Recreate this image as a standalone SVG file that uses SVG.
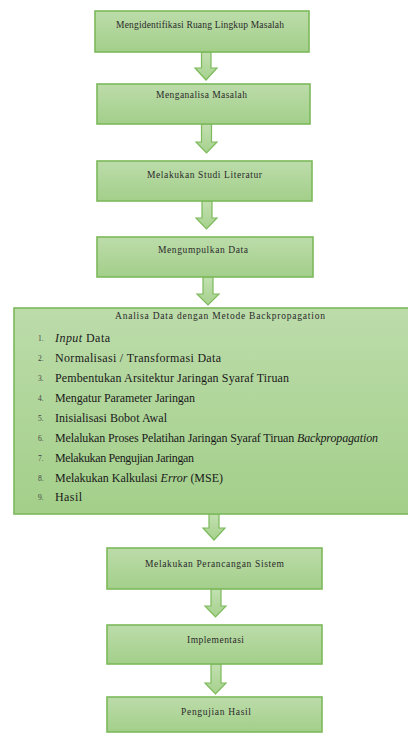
<svg xmlns="http://www.w3.org/2000/svg" width="408" height="734" viewBox="0 0 408 734">
<defs>
<linearGradient id="g" x1="0" y1="0" x2="0" y2="1">
<stop offset="0" stop-color="#bcdcaa"/>
<stop offset="1" stop-color="#a3cf8a"/>
</linearGradient>
<linearGradient id="ga" x1="0" y1="0" x2="0" y2="1">
<stop offset="0" stop-color="#c2e0b0"/>
<stop offset="1" stop-color="#a6d18d"/>
</linearGradient>
<style>
.box{fill:url(#g);stroke:#7cba5b;stroke-width:1.6}
.arr{fill:url(#ga);stroke:#7cba5b;stroke-width:1.2;stroke-linejoin:miter}
text{font-family:'Liberation Serif','DejaVu Serif','Times New Roman',serif}
.t{font-size:9.5px;fill:#2a2a2a;text-anchor:middle}
.li{font-size:12px;fill:#1a1a1a}
.n{font-size:7.5px;fill:#444}
.i{font-style:italic}
</style>
</defs>
<rect width="408" height="734" fill="#ffffff"/>
<g id="connectors">
<path class="arr" d="M201.5,52 H211 V68 H217 L206,80 L195,68 H201.5 Z"/>
<path class="arr" d="M201.5,124 H211.5 V142 H217 L206.5,153 L196,142 H201.5 Z"/>
<path class="arr" d="M202,201 H212 V218 H217 L206.5,229 L196,218 H202 Z"/>
<path class="arr" d="M203,277 H213 V294 H219 L208,305 L197,294 H203 Z"/>
<path class="arr" d="M209,514 H219 V528 H225 L214,540 L203,528 H209 Z"/>
<path class="arr" d="M211,589 H221 V606 H226 L215.5,617 L205,606 H211 Z"/>
<path class="arr" d="M211,664 H221 V683 H226 L215.5,694 L205,683 H211 Z"/>
</g>
<g id="n1">
<rect class="box" x="95" y="11" width="214" height="41"/>
<text class="t" x="200" y="28" textLength="168" lengthAdjust="spacing">Mengidentifikasi Ruang Lingkup Masalah</text>
</g>
<g id="n2">
<rect class="box" x="97" y="84" width="213" height="40"/>
<text class="t" x="201.5" y="98" textLength="91" lengthAdjust="spacing">Menganalisa Masalah</text>
</g>
<g id="n3">
<rect class="box" x="97" y="161" width="215" height="40"/>
<text class="t" x="204.5" y="178" textLength="115" lengthAdjust="spacing">Melakukan Studi Literatur</text>
</g>
<g id="n4">
<rect class="box" x="97" y="237" width="216" height="40"/>
<text class="t" x="203" y="253" textLength="90" lengthAdjust="spacing">Mengumpulkan Data</text>
</g>
<g id="n5">
<rect class="box" x="14" y="308" width="402" height="206"/>
<text class="t" x="220" y="319" textLength="210" lengthAdjust="spacing">Analisa Data dengan Metode Backpropagation</text>
<text class="n" x="38" y="341">1.</text>
<text class="li" x="55" y="342" textLength="55" lengthAdjust="spacing"><tspan class="i">Input</tspan> Data</text>
<text class="n" x="38" y="361">2.</text>
<text class="li" x="55" y="362" textLength="166" lengthAdjust="spacing">Normalisasi / Transformasi Data</text>
<text class="n" x="38" y="381">3.</text>
<text class="li" x="55" y="382" textLength="234" lengthAdjust="spacing">Pembentukan Arsitektur Jaringan Syaraf Tiruan</text>
<text class="n" x="38" y="401">4.</text>
<text class="li" x="55" y="402" textLength="140" lengthAdjust="spacing">Mengatur Parameter Jaringan</text>
<text class="n" x="38" y="421">5.</text>
<text class="li" x="55" y="422" textLength="112" lengthAdjust="spacing">Inisialisasi Bobot Awal</text>
<text class="n" x="38" y="441">6.</text>
<text class="li" x="55" y="442" textLength="323" lengthAdjust="spacing">Melalukan Proses Pelatihan Jaringan Syaraf Tiruan <tspan class="i">Backpropagation</tspan></text>
<text class="n" x="38" y="461">7.</text>
<text class="li" x="55" y="462" textLength="139" lengthAdjust="spacing">Melakukan Pengujian Jaringan</text>
<text class="n" x="38" y="481">8.</text>
<text class="li" x="55" y="482" textLength="168" lengthAdjust="spacing">Melakukan Kalkulasi <tspan class="i">Error</tspan> (MSE)</text>
<text class="n" x="38" y="500">9.</text>
<text class="li" x="55" y="501" textLength="27" lengthAdjust="spacing">Hasil</text>
</g>
<g id="n6">
<rect class="box" x="107" y="548" width="215" height="41"/>
<text class="t" x="214.5" y="567" textLength="139" lengthAdjust="spacing">Melakukan Perancangan Sistem</text>
</g>
<g id="n7">
<rect class="box" x="107" y="625" width="215" height="39"/>
<text class="t" x="215.5" y="643" textLength="57" lengthAdjust="spacing">Implementasi</text>
</g>
<g id="n8">
<rect class="box" x="107" y="697" width="215" height="35"/>
<text class="t" x="216" y="715" textLength="70" lengthAdjust="spacing">Pengujian Hasil</text>
</g>
</svg>
